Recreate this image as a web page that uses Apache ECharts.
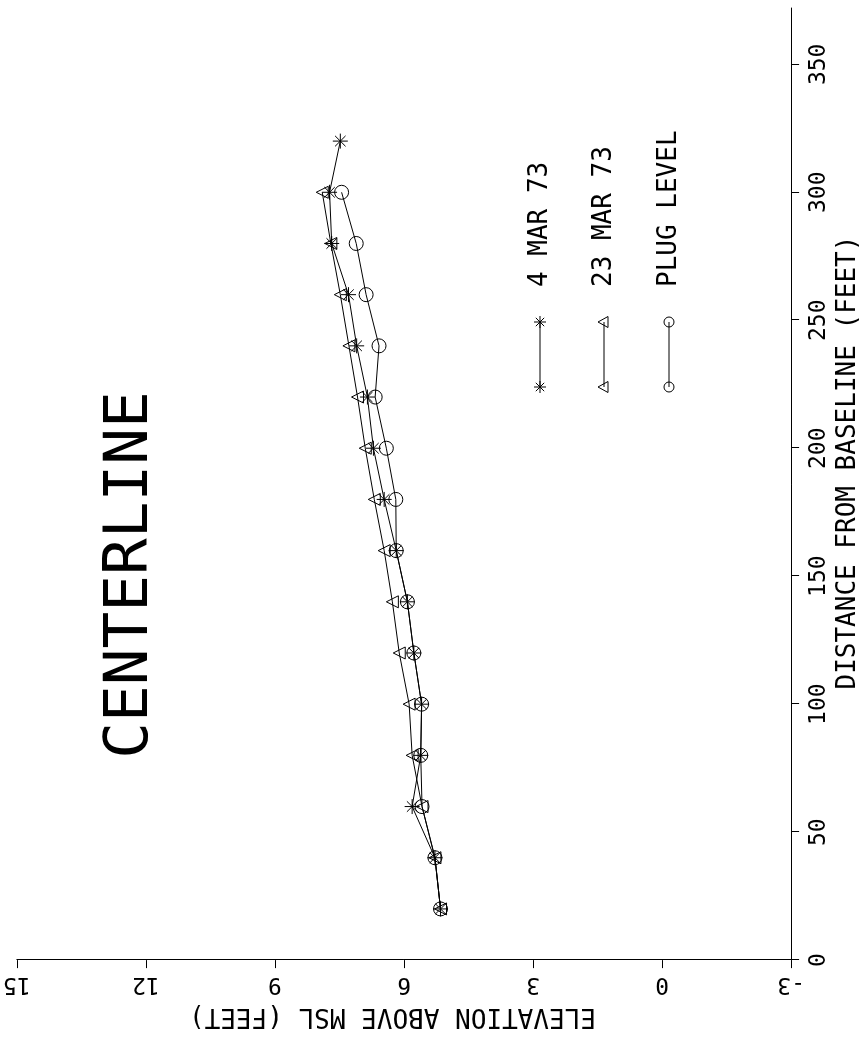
<!DOCTYPE html>
<html><head><meta charset="utf-8">
<script src="https://cdn.jsdelivr.net/npm/echarts@6/dist/echarts.min.js"></script>
<style>
html,body{margin:0;padding:0;background:#fff;overflow:hidden;width:866px;height:1037px;}
#chart{position:absolute;left:0;top:0;width:1037px;height:866px;transform-origin:0 0;transform:translate(0,1037px) rotate(-90deg);}
</style></head><body><div id="chart"></div>
<script>
// ---- data (distance in feet, elevation in feet above MSL) ----
const distances = [20,40,60,80,100,120,140,160,180,200,220,240,260,280,300];
const distancesMar4 = [20,40,60,80,100,120,140,160,180,200,220,240,260,280,300,320];
const mar4 = [5.15,5.28,5.81,5.61,5.59,5.77,5.92,6.18,6.46,6.71,6.85,7.10,7.29,7.68,7.73,7.48];
const mar23 = [5.15,5.28,5.58,5.81,5.88,6.11,6.27,6.46,6.69,6.90,7.08,7.28,7.48,7.70,7.90];
const plugLevel = [5.15,5.28,5.58,5.61,5.59,5.77,5.92,6.18,6.19,6.41,6.67,6.58,6.88,7.11,7.45];
const distanceTicks = [0,50,100,150,200,250,300,350];
const seriesNames = ['4 MAR 73','23 MAR 73','PLUG LEVEL'];
const titleText = 'CENTERLINE';
const xName = 'DISTANCE FROM BASELINE (FEET)';
const yName = 'ELEVATION ABOVE MSL (FEET)';

const FONT = '"DejaVu Sans Mono", "Liberation Mono", monospace';
const STAR = 'path://M0,5L10,5M5,0L5,10M1.5,1.5L8.5,8.5M8.5,1.5L1.5,8.5';
const hollow = {color:'rgba(0,0,0,0)', borderColor:'#000', borderWidth:1};

function pairs(xs, ys){ return xs.map((x,i)=>[x, ys[i]]); }

const chart = echarts.init(document.getElementById('chart'), null, {renderer:'canvas'});

// legend drawn as graphic keys (line with symbol at both ends)
const legendY = [540, 604, 669];
const kx1 = 650, kx2 = 715;
const graphics = [];
function starKey(cx, cy){
  const r = 6, d = 4.2;
  [[-r,0,r,0],[0,-r,0,r],[-d,-d,d,d],[d,-d,-d,d]].forEach(s=>{
    graphics.push({type:'line', shape:{x1:cx+s[0],y1:cy+s[1],x2:cx+s[2],y2:cy+s[3]}, style:{stroke:'#000',lineWidth:1}});
  });
}
function triKey(cx, cy){
  graphics.push({type:'polygon', shape:{points:[[cx,cy-6],[cx+5.5,cy+4],[cx-5.5,cy+4]]}, style:{fill:'none',stroke:'#000',lineWidth:1}});
}
function circKey(cx, cy){
  graphics.push({type:'circle', shape:{cx:cx,cy:cy,r:5}, style:{fill:'none',stroke:'#000',lineWidth:1}});
}
const keyFns = [starKey, triKey, circKey];
seriesNames.forEach((n,i)=>{
  const y = legendY[i];
  graphics.push({type:'line', shape:{x1:kx1,y1:y,x2:kx2,y2:y}, style:{stroke:'#000',lineWidth:1}});
  keyFns[i](kx1, y); keyFns[i](kx2, y);
  graphics.push({type:'text', style:{text:n, x:750, y:y, fill:'#000', font:'26px '+FONT, verticalAlign:'middle', align:'left'}});
});
graphics.push({type:'text', style:{text:titleText, x:462, y:131, fill:'#000', font:'61px '+FONT, verticalAlign:'middle', align:'center'}});

const option = {
  animation:false,
  backgroundColor:'#fff',
  grid:{left:68, right:8, top:15, bottom:71, containLabel:false},
  xAxis:{
    type:'value', min:0, max:372, position:'bottom',
    name:xName, nameLocation:'middle', nameGap:37,
    nameTextStyle:{fontFamily:FONT, fontSize:26, color:'#000', padding:[0,0,0,43]},
    axisLine:{show:true, onZero:false, lineStyle:{color:'#000', width:1}},
    axisTick:{show:true, inside:false, length:8, customValues:distanceTicks, lineStyle:{color:'#000'}},
    axisLabel:{show:true, margin:16, customValues:distanceTicks, fontFamily:FONT, fontSize:23, color:'#000'},
    splitLine:{show:false}
  },
  yAxis:{
    type:'value', min:-3, max:15, interval:3, position:'left',
    name:yName, nameLocation:'middle', nameGap:36, nameRotate:90,
    nameTextStyle:{fontFamily:FONT, fontSize:26, color:'#000', padding:[0,0,0,23]},
    axisLine:{show:true, onZero:false, lineStyle:{color:'#000', width:1}},
    axisTick:{show:true, inside:false, length:8, lineStyle:{color:'#000'}},
    axisLabel:{show:true, margin:12, rotate:90, fontFamily:FONT, fontSize:23, color:'#000'},
    splitLine:{show:false}
  },
  graphic:graphics,
  series:[
    {name:seriesNames[0], type:'line', data:pairs(distancesMar4, mar4), symbol:STAR, symbolSize:15, showAllSymbol:true,
     itemStyle:hollow, lineStyle:{color:'#000', width:1}},
    {name:seriesNames[1], type:'line', data:pairs(distances, mar23), symbol:'triangle', symbolSize:12, showAllSymbol:true,
     itemStyle:hollow, lineStyle:{color:'#000', width:1}},
    {name:seriesNames[2], type:'line', data:pairs(distances, plugLevel), symbol:'circle', symbolSize:14, showAllSymbol:true,
     itemStyle:hollow, lineStyle:{color:'#000', width:1}}
  ]
};
chart.setOption(option);
</script></body></html>
